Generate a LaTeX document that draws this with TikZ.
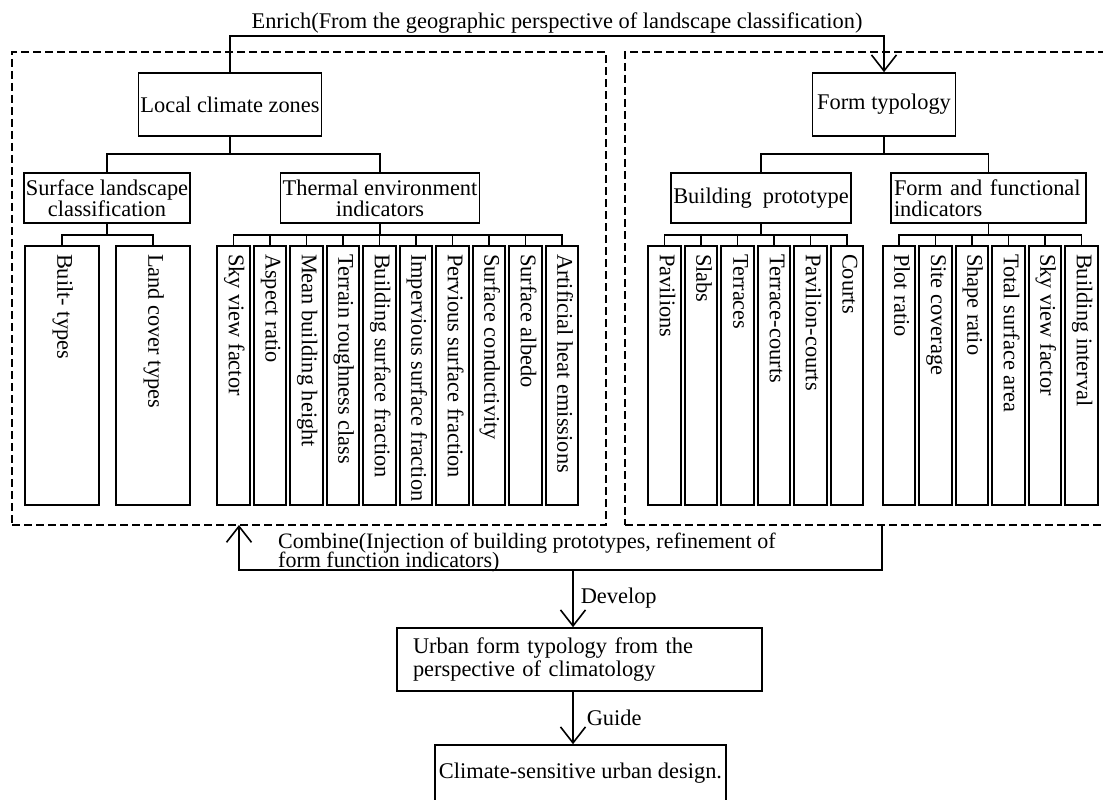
\documentclass[tikz,border=0pt]{standalone}
\usepackage{fontspec}
\setmainfont{Liberation Serif}
\usepackage{graphicx}
\usetikzlibrary{arrows.meta, positioning}
\newcommand{\vtext}[1]{\rotatebox{-90}{\makebox[243pt][l]{\strut #1}}}
\newcommand{\tightfont}{\fontsize{22pt}{19pt}\selectfont\lineskiplimit=-100pt\relax}

\begin{document}
\begin{tikzpicture}[
  x=1pt, y=-1pt,
  font=\fontsize{22.4pt}{21pt}\selectfont,
  box/.style={rectangle, draw, line width=1.6pt, inner sep=2pt, minimum height=50pt, align=center},
  leaf/.style={rectangle, draw, line width=1.6pt, inner sep=0pt, outer sep=0pt, minimum width=32.5pt, minimum height=259pt},
  frame/.style={rectangle, draw, line width=1.4pt, dash pattern=on 8pt off 4pt, inner sep=0pt},
  link/.style={line width=1.6pt},
  arrow/.style={line width=1.6pt, -{Straight Barb[length=16pt, width=25pt]}}
]
\fill[white] (0,0) rectangle (1103,800);
\useasboundingbox (0,0) rectangle (1103,800);

% Dashed frames
\node[frame, minimum width=594pt, minimum height=473pt] (leftframe) at (309,288.5) {};
\node[frame, minimum width=490pt, minimum height=473pt] (rightframe) at (870,288.5) {};

% Local climate zones
\node[box, minimum width=181pt, minimum height=63pt] (lcz) at (230,104.5) {Local climate zones};
\node[box, minimum width=164pt] (slc) at (107,198) {Surface landscape\\classification};
\node[box, minimum width=196pt] (tei) at (380,198) {Thermal environment\\indicators};

% Form typology
\node[box, minimum width=143pt, minimum height=63pt] (ft) at (884,104.5) {Form typology};
\node[box, minimum width=174pt] (bp) at (761,198) {Building\ \ prototype};
\node[box, text width=189pt, inner xsep=3pt, align=left] (ffi) at (988.5,198) {Form and functional\\indicators};

% Landscape classes
\node[leaf, minimum width=74pt] (built) at (62,375.5) {\vtext{Built- types}};
\node[leaf, minimum width=74pt, right=17pt of built] (landcover) {\vtext{Land cover types}};

% Thermal indicators
\node[leaf] (svf) at (233.5,375.5) {\vtext{Sky view factor}};
\node[leaf, right=4pt of svf] (aspect) {\vtext{Aspect ratio}};
\node[leaf, right=4pt of aspect] (height) {\vtext{Mean building height}};
\node[leaf, right=4pt of height] (rough) {\vtext{Terrain roughness class}};
\node[leaf, right=4pt of rough] (bsf) {\vtext{Building surface fraction}};
\node[leaf, right=4pt of bsf] (isf) {\vtext{Impervious surface fraction}};
\node[leaf, right=4pt of isf] (psf) {\vtext{Pervious surface fraction}};
\node[leaf, right=4pt of psf] (cond) {\vtext{Surface conductivity}};
\node[leaf, right=4pt of cond] (albedo) {\vtext{Surface albedo}};
\node[leaf, right=4pt of albedo] (heat) {\vtext{Artificial heat emissions}};

% Building prototypes
\node[leaf] (pav) at (664.5,375.5) {\vtext{Pavilions}};
\node[leaf, right=4pt of pav] (slabs) {\vtext{Slabs}};
\node[leaf, right=4pt of slabs] (terr) {\vtext{Terraces}};
\node[leaf, right=4pt of terr] (tcourts) {\vtext{Terrace-courts}};
\node[leaf, right=4pt of tcourts] (pcourts) {\vtext{Pavilion-courts}};
\node[leaf, right=4pt of pcourts] (courts) {\vtext{Courts}};

% Form and functional indicators
\node[leaf] (plot) at (899,375.5) {\vtext{Plot ratio}};
\node[leaf, right=4pt of plot] (site) {\vtext{Site coverage}};
\node[leaf, right=4pt of site] (shape) {\vtext{Shape ratio}};
\node[leaf, right=4pt of shape] (tsa) {\vtext{Total surface area}};
\node[leaf, right=4pt of tsa] (svftwo) {\vtext{Sky view factor}};
\node[leaf, right=4pt of svftwo] (interval) {\vtext{Building interval}};

% Lower chain
\node[box, minimum width=365pt, minimum height=63pt, text width=333pt, inner xsep=16pt, align=left,
  font=\fontsize{22.4pt}{23pt}\selectfont] (urban) at (579.5,659.5) {Urban form typology from the\\perspective of climatology};
\node[box, minimum width=291pt, minimum height=56pt] (design) at (580.5,773) {Climate-sensitive urban design.};
\node[anchor=north west, inner sep=0pt, align=left, font=\tightfont] (combine) at (278,533)
  {Combine(Injection of building prototypes, refinement of\\form function indicators)};

\coordinate (combinein) at (239,525);
\coordinate (combineout) at (882,525);
\coordinate (develop) at (573,570);

% Tree links
\draw[link] (lcz.south) -- ++(0,17) coordinate (lczbus)
  (lczbus) -| (slc.north) (lczbus) -| (tei.north);
\draw[link] (ft.south) -- ++(0,17) coordinate (ftbus)
  (ftbus) -| (bp.north) (ftbus) -| (ffi.north);
\draw[link] (slc.south) -- ++(0,11) coordinate (slcbus)
  (slcbus) -| (built.north) (slcbus) -| (landcover.north);
\draw[link] (tei.south) -- ++(0,11) coordinate (teibus)
  (teibus) -| (svf.north) (teibus) -| (aspect.north) (teibus) -| (height.north)
  (teibus) -| (rough.north) (teibus) -| (bsf.north) (teibus) -| (isf.north)
  (teibus) -| (psf.north) (teibus) -| (cond.north) (teibus) -| (albedo.north)
  (teibus) -| (heat.north);
\draw[link] (bp.south) -- ++(0,11) coordinate (bpbus)
  (bpbus) -| (pav.north) (bpbus) -| (slabs.north) (bpbus) -| (terr.north)
  (bpbus) -| (tcourts.north) (bpbus) -| (pcourts.north) (bpbus) -| (courts.north);
\draw[link] (ffi.south) -- ++(0,11) coordinate (ffibus)
  (ffibus) -| (plot.north) (ffibus) -| (site.north) (ffibus) -| (shape.north)
  (ffibus) -| (tsa.north) (ffibus) -| (svftwo.north) (ffibus) -| (interval.north);

% Arrows
\draw[arrow] (lcz.north) -- ++(0,-36) -| node[pos=0.25, above, inner sep=2pt]
  {Enrich(From the geographic perspective of landscape classification)} (ft.north);
\draw[arrow] (combineout) -- ++(0,45) -| (combinein);
\draw[arrow] (develop) -- node[right=6pt, inner sep=1pt] {Develop} (develop |- urban.north);
\draw[arrow] (urban.south -| develop) -- node[right=12pt, inner sep=1pt] {Guide} (design.north -| develop);

\end{tikzpicture}
\end{document}
